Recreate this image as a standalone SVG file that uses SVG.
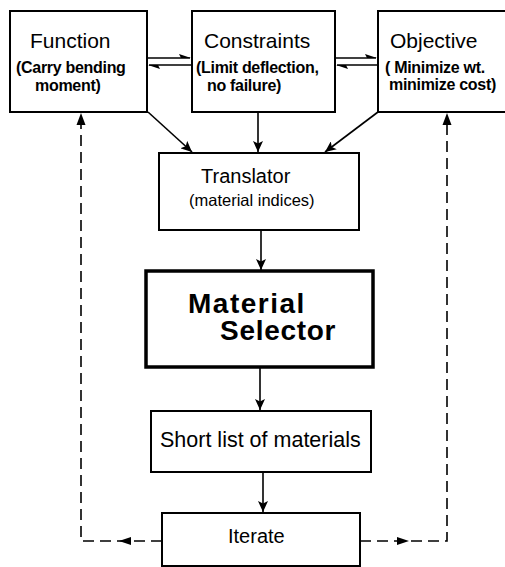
<svg xmlns="http://www.w3.org/2000/svg" width="505" height="567" viewBox="0 0 505 567">
<style>
.box{fill:#fff;stroke:#000;stroke-width:2}
.thick{fill:#fff;stroke:#000;stroke-width:3.5}
.t{font-family:"Liberation Sans",Arial,sans-serif;fill:#000}
.title{font-size:21px}
.sub{font-size:16px;font-weight:bold;letter-spacing:-0.3px}
.ln{stroke:#000;stroke-width:1.6;fill:none}
.dash{stroke:#000;stroke-width:1.6;fill:none;stroke-dasharray:11 6}
.ah{fill:#000}
</style>
<defs>
<marker id="arr" markerUnits="userSpaceOnUse" markerWidth="12" markerHeight="10" refX="11" refY="5" orient="auto">
<path d="M0,0 L11,5 L0,10 L2.5,5 Z" fill="#000"/>
</marker>
</defs>
<rect width="505" height="567" fill="#fff"/>
<g id="function">
<rect class="box" x="10" y="11" width="137" height="101"/>
<text class="t title" x="30" y="48">Function</text>
<text class="t sub" x="16" y="73">(Carry bending</text>
<text class="t sub" x="35" y="91">moment)</text>
</g>
<g id="constraints">
<rect class="box" x="192" y="11" width="143" height="101"/>
<text class="t title" x="204" y="48">Constraints</text>
<text class="t sub" x="196" y="73">(Limit deflection,</text>
<text class="t sub" x="207" y="91">no failure)</text>
</g>
<g id="objective">
<rect class="box" x="378" y="11" width="140" height="101"/>
<text class="t title" x="390" y="48">Objective</text>
<text class="t sub" x="385" y="73">( Minimize wt.</text>
<text class="t sub" x="389" y="90">minimize cost)</text>
</g>
<g id="translator">
<rect class="box" x="159" y="153" width="200" height="77"/>
<text class="t" style="font-size:20px" x="201" y="183">Translator</text>
<text class="t" style="font-size:16.5px" x="189" y="206">(material indices)</text>
</g>
<g id="selector">
<rect class="thick" x="146" y="271" width="227" height="96"/>
<text class="t" style="font-size:28px;font-weight:bold;letter-spacing:1.5px" x="188" y="313">Material</text>
<text class="t" style="font-size:28px;font-weight:bold;letter-spacing:0.7px" x="220" y="340">Selector</text>
</g>
<g id="shortlist">
<rect class="box" x="151" y="411" width="220" height="61"/>
<text class="t" style="font-size:21.5px" x="160" y="447">Short list of materials</text>
</g>
<g id="iterate">
<rect class="box" x="162" y="513" width="198" height="53"/>
<text class="t" style="font-size:20px" x="228" y="543">Iterate</text>
</g>
<g id="connectors">
<line class="ln" x1="148" y1="58" x2="190" y2="58"/>
<path class="ah" d="M191,58 L179,54 L181,58 Z"/>
<line class="ln" x1="149" y1="65" x2="191" y2="65"/>
<path class="ah" d="M148,65 L160,69 L158,65 Z"/>
<line class="ln" x1="336" y1="58" x2="376" y2="58"/>
<path class="ah" d="M377,58 L365,54 L367,58 Z"/>
<line class="ln" x1="337" y1="65" x2="377" y2="65"/>
<path class="ah" d="M336,65 L348,69 L346,65 Z"/>
<line class="ln" x1="148" y1="112" x2="192" y2="152" marker-end="url(#arr)"/>
<line class="ln" x1="258" y1="112" x2="258" y2="152" marker-end="url(#arr)"/>
<line class="ln" x1="378" y1="112" x2="325" y2="152" marker-end="url(#arr)"/>
<line class="ln" x1="261" y1="230" x2="261" y2="270" marker-end="url(#arr)"/>
<line class="ln" x1="260" y1="368" x2="260" y2="410" marker-end="url(#arr)"/>
<line class="ln" x1="263" y1="472" x2="263" y2="512" marker-end="url(#arr)"/>
<path class="dash" d="M162,541 L81,541 L81,124"/>
<path class="ah" d="M81,113 L76.5,125 L85.5,125 Z"/>
<path class="ah" d="M119,541 L131,537 L131,545 Z"/>
<path class="dash" d="M360,541 L447,541 L447,124"/>
<path class="ah" d="M447,113 L442.5,125 L451.5,125 Z"/>
<path class="ah" d="M409,541 L397,537 L397,545 Z"/>
</g>
</svg>
